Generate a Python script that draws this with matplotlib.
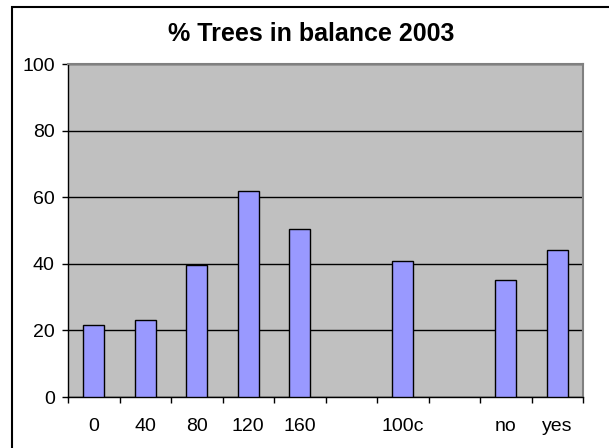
import numpy as np
import matplotlib.pyplot as plt
from matplotlib.patches import Rectangle

categories = ['0', '40', '80', '120', '160', '', '100c', '', 'no', 'yes']
values = [21.5, 23.2, 39.5, 62.0, 50.4, np.nan, 40.8, np.nan, 35.0, 44.2]

plt.rcParams['font.family'] = ['Liberation Sans', 'DejaVu Sans']

fig = plt.figure(figsize=(6.09, 4.48), dpi=100)
W, H = 609, 448
ax = fig.add_axes([68 / W, 1 - 397 / H, (583 - 68) / W, (397 - 64) / H])

# outer chart frame (runs off the right and bottom edge)
fig.patches.append(Rectangle((12 / W, -0.1), 1.2, 1 - 7 / H + 0.1,
                             transform=fig.transFigure, fill=False,
                             edgecolor='black', linewidth=1.5))

x = np.arange(len(categories))
ax.set_facecolor('#c0c0c0')
ax.bar(x, values, width=0.41, color='#9999ff', edgecolor='black',
       linewidth=1.0, zorder=3)

ax.set_xlim(-0.5, len(categories) - 0.5)
ax.set_ylim(0, 100)
ax.set_yticks(np.arange(0, 101, 20))
ax.yaxis.grid(True, color='black', linewidth=1.0, zorder=1)
ax.set_axisbelow(True)

ax.set_xticks(x)
ax.set_xticklabels(categories)
ax.set_xticks(np.arange(-0.5, len(categories), 1), minor=True)
ax.tick_params(axis='x', which='major', length=0, pad=15, labelsize=14)
ax.tick_params(axis='x', which='minor', length=4, width=1, direction='out')
ax.tick_params(axis='y', length=4.5, width=1, labelsize=14, pad=5)

for side in ['top', 'right']:
    ax.spines[side].set_color('#808080')
    ax.spines[side].set_linewidth(1.5)
for side in ['left', 'bottom']:
    ax.spines[side].set_color('black')
    ax.spines[side].set_linewidth(1.0)

fig.text(311 / W, 1 - 34 / H, '% Trees in balance 2003',
         ha='center', va='center', fontsize=18, fontweight='bold')

fig.savefig('out.png', dpi=100)
